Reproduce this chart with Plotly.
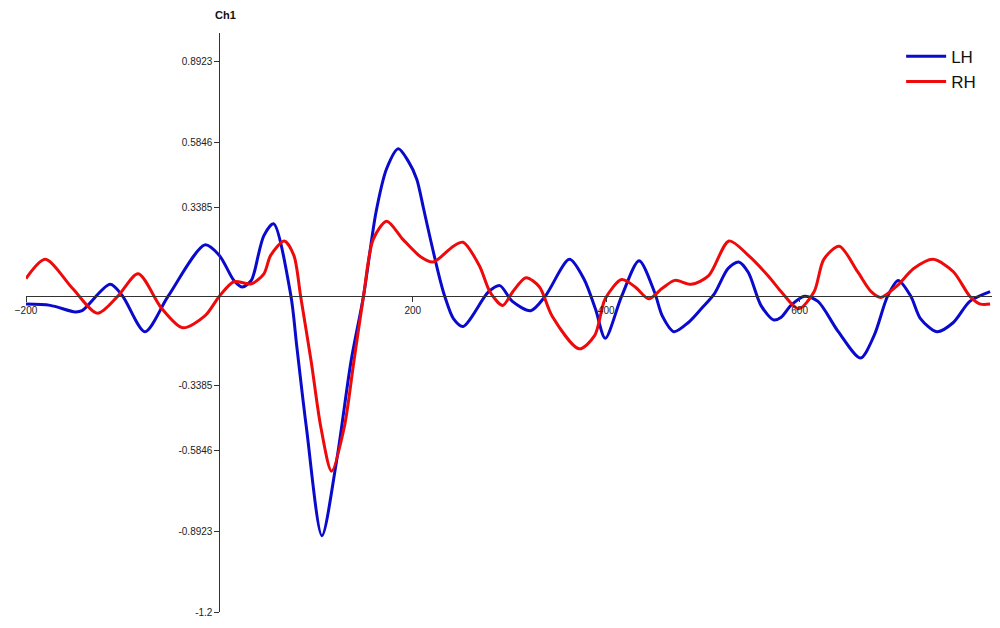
import plotly.graph_objects as go

# ---- data ----
lh_x = [-200, -175, -149, -142, -113, -100, -77, -53, -15, 0, 15, 24, 33, 36, 46, 56,
        74, 80, 90, 106, 121, 136, 149, 162, 173, 185, 195, 204, 211, 218, 228, 233, 242, 252,
        278, 290, 303, 322, 337, 362, 377, 389, 399, 416, 434, 450, 458, 470, 485, 499,
        512, 526, 537, 547, 560, 573, 581, 591, 605, 619, 640, 663, 677, 691, 702, 715,
        725, 742, 759, 776, 797]
lh_y = [-0.03, -0.035, -0.06, -0.055, 0.045, 0.0, -0.135, 0.0, 0.195, 0.155, 0.06, 0.035, 0.06, 0.09, 0.23, 0.275,
        0.0, -0.19, -0.5, -0.91, -0.63, -0.25, 0.0, 0.32, 0.485, 0.56, 0.515, 0.445, 0.335, 0.22, 0.065, 0.0, -0.085, -0.115,
        0.015, 0.04, -0.02, -0.055, 0.0, 0.14, 0.065, -0.05, -0.16, 0.0, 0.135, 0.015, -0.075, -0.135, -0.1, -0.045,
        0.01, 0.105, 0.13, 0.09, -0.035, -0.09, -0.08, -0.035, 0.0, -0.02, -0.135, -0.235, -0.15, 0.0, 0.06, 0.0,
        -0.085, -0.135, -0.1, -0.02, 0.017]

rh_x = [-200, -180, -152, -126, -105, -84, -60, -38, -15, 0, 15, 33, 46, 53, 67, 77,
        84, 95, 105, 116, 129, 139, 149, 159, 173, 190, 208, 221, 242, 252, 269, 280,
        293, 303, 317, 331, 344, 372, 388, 399, 416, 430, 444, 458, 471, 488, 506, 527,
        547, 568, 581, 599, 615, 625, 641, 660, 674, 684, 701, 718, 738, 759, 776, 787, 797]
rh_y = [0.067, 0.14, 0.03, -0.065, 0.0, 0.085, -0.045, -0.12, -0.075, 0.0, 0.055, 0.047, 0.085, 0.155, 0.21, 0.155,
        0.0, -0.25, -0.5, -0.665, -0.5, -0.25, 0.0, 0.215, 0.285, 0.215, 0.15, 0.13, 0.19, 0.205, 0.115, 0.015,
        -0.035, 0.015, 0.07, 0.035, -0.075, -0.2, -0.15, -0.01, 0.063, 0.035, -0.01, 0.03, 0.06, 0.045, 0.078, 0.21,
        0.155, 0.075, 0.017, -0.048, 0.017, 0.14, 0.19, 0.093, 0.017, -0.005, 0.04, 0.105, 0.14, 0.093, 0.0, -0.03, -0.03]

series_names = ["LH", "RH"]
x_tick_vals = [-200, 200, 400, 600]
y_tick_vals = [0.8923, 0.5846, 0.3385, -0.3385, -0.5846, -0.8923, -1.2]
y_tick_text = ["0.8923", "0.5846", "0.3385", "-0.3385", "-0.5846", "-0.8923", "-1.2"]
x_range = [-200, 800]
y_range = [-1.2, 1.0]
channel_label = "Ch1"

# ---- figure ----
fig = go.Figure()
fig.add_trace(go.Scatter(x=lh_x, y=lh_y, mode="lines", name=series_names[0],
                         line=dict(color="#0A0ACD", width=3, shape="spline", smoothing=0.8)))
fig.add_trace(go.Scatter(x=rh_x, y=rh_y, mode="lines", name=series_names[1],
                         line=dict(color="#EE0A0A", width=3, shape="spline", smoothing=0.8)))

x_axis_pos = (0 - y_range[0]) / (y_range[1] - y_range[0])
y_axis_pos = (0 - x_range[0]) / (x_range[1] - x_range[0])

tick_font = dict(family="Liberation Sans, Arial, sans-serif", size=10, color="#222222")

# the page body keeps its default 8px margin, so the figure is 992x620 and margins are reduced by 8
fig.update_layout(
    width=992, height=620,
    margin=dict(l=12, r=7, t=25, b=16),
    paper_bgcolor="white", plot_bgcolor="white",
    showlegend=True,
    legend=dict(x=0.905, y=0.99, xanchor="left", yanchor="top",
                itemwidth=40,
                font=dict(family="Liberation Sans, Arial, sans-serif", size=17, color="#111111"),
                bgcolor="rgba(0,0,0,0)", tracegroupgap=0),
    xaxis=dict(range=x_range, anchor="free", position=x_axis_pos,
               showline=True, linecolor="#333333", linewidth=1,
               ticks="outside", ticklen=5, tickcolor="#333333",
               tickvals=x_tick_vals, tickfont=tick_font,
               showgrid=False, zeroline=False),
    yaxis=dict(range=y_range, anchor="free", position=y_axis_pos, domain=[0, 1],
               showline=True, linecolor="#333333", linewidth=1,
               ticks="outside", ticklen=5, tickcolor="#333333",
               tickvals=y_tick_vals, ticktext=y_tick_text, tickfont=tick_font,
               showgrid=False, zeroline=False),
    annotations=[dict(text="<b>" + channel_label + "</b>", x=0, y=1.0, xref="x", yref="paper",
                      xanchor="center", yanchor="bottom", xshift=6, yshift=10, showarrow=False,
                      font=dict(family="Liberation Sans, Arial, sans-serif", size=11, color="#111111"))],
)

fig.write_html("out.html")
